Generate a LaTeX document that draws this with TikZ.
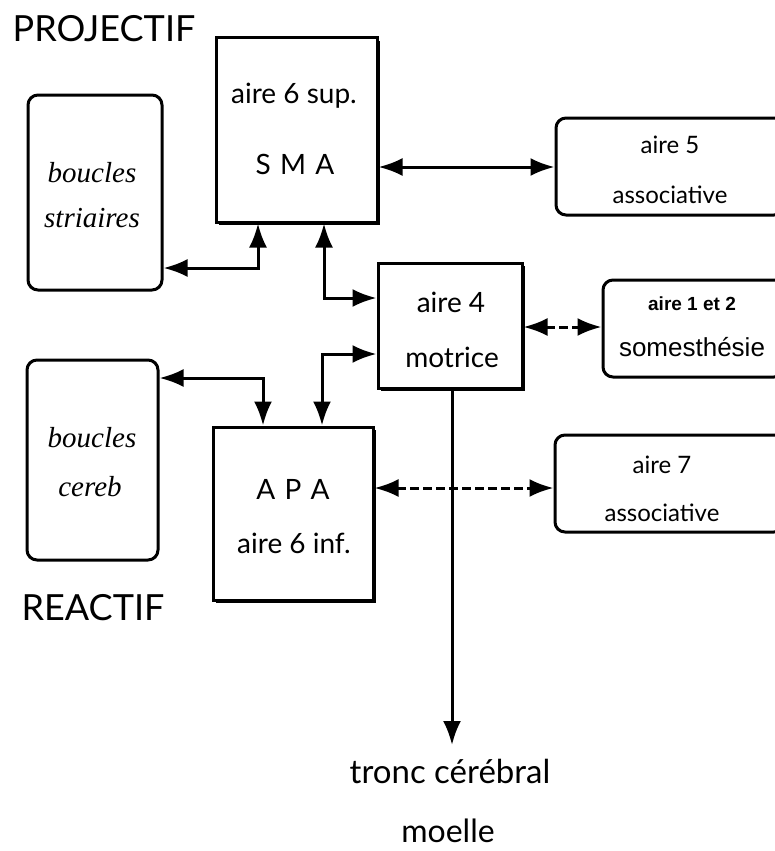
\documentclass[tikz,border=0pt]{standalone}
\usepackage{fontspec}
\setmainfont{Lato}
\newfontfamily\arialf{Liberation Sans}
\newfontfamily\scriptf{Liberation Serif}
\usetikzlibrary{arrows.meta,shadows}
\begin{document}
\begin{tikzpicture}[x=1pt,y=-1pt,
  box/.style={draw,line width=3pt,fill=white,inner sep=0pt},
  shbox/.style={box,drop shadow={shadow xshift=3pt,shadow yshift=-3pt,fill=black,opacity=1}},
  rbox/.style={box,rounded corners=10pt},
  dbl/.style={line width=3pt,{Latex[length=24pt,width=18pt]}-{Latex[length=24pt,width=18pt]}},
  dsh/.style={dbl,dash pattern=on 9pt off 4pt},
  lab/.style={inner sep=0pt,anchor=center},
  hd/.style={lab,font=\fontsize{36}{40}\selectfont},
  bt/.style={lab,font=\fontsize{28}{32}\selectfont},
  st/.style={lab,font=\fontsize{24}{28}\selectfont},
  it/.style={lab,font=\scriptf\itshape\fontsize{29}{32}\selectfont}]
\useasboundingbox (0,0) rectangle (775,851);
\clip (0,0) rectangle (775,851);

% boxes
\node[shbox,minimum width=161pt,minimum height=184pt] (sma) at (296.5,130) {};
\node[rbox,minimum width=134pt,minimum height=195pt] (str) at (95,192.5) {};
\node[rbox,minimum width=228pt,minimum height=97pt] (a5) at (670,166.5) {};
\node[shbox,minimum width=144pt,minimum height=125pt] (a4) at (450,325.5) {};
\node[rbox,minimum width=181pt,minimum height=97pt] (a12) at (693.5,328.5) {};
\node[rbox,minimum width=131pt,minimum height=200pt] (cer) at (92.5,460) {};
\node[shbox,minimum width=160pt,minimum height=173pt] (apa) at (293,513.5) {};
\node[rbox,minimum width=229pt,minimum height=97pt] (a7) at (669.5,483.5) {};
\coordinate (bot) at (452,745);

% texts
\node[hd] (proj) at (104,29) {PROJECTIF};
\node[hd] (reac) at (93,608) {REACTIF};
\node[bt] (t1) at (294,96) {aire 6 sup.};
\node[bt] (t2) at (295,164) {S\,\,M\,\,A};
\node[it] (t3) at (92,173) {boucles};
\node[it] (t4) at (92,218) {striaires};
\node[st] (t5) at (670,145) {aire 5};
\node[st] (t6) at (670,195) {associative};
\node[bt] (t7) at (451,302) {aire 4};
\node[bt] (t8) at (452,357) {motrice};
\node[lab,font=\arialf\bfseries\fontsize{19}{22}\selectfont] (t9) at (692,304) {aire 1 et 2};
\node[lab,font=\arialf\fontsize{26}{30}\selectfont] (t10) at (692,347) {somesthésie};
\node[it] (t11) at (92,438) {boucles};
\node[it] (t12) at (90,487) {cereb};
\node[bt] (t13) at (293,489) {A\,\,P\,\,A};
\node[bt] (t14) at (294,543) {aire 6 inf.};
\node[st] (t15) at (662,465) {aire 7};
\node[st] (t16) at (662,513) {associative};
\node[lab,font=\fontsize{33}{36}\selectfont] (t17) at (450,771) {tronc cérébral};
\node[lab,font=\fontsize{32}{36}\selectfont] (t18) at (448,831) {moelle};

% connectors
\draw[dbl] (sma.south -| 258,0) |- (str.east |- 0,268);
\draw[dbl] (sma.south -| 324,0) |- (a4.west |- 0,298);
\draw[dbl] (cer.east |- 0,378) -| (apa.north -| 263,0);
\draw[dbl] (apa.north -| 322,0) |- (a4.west |- 0,354);
\draw[dbl] (sma.east |- 0,167) -- (a5.west |- 0,167);
\draw[dsh] (a4.east |- 0,327) -- (a12.west |- 0,327);
\draw[dsh] (apa.east |- 0,488) -- (a7.west |- 0,488);
\draw[line width=3pt,-{Latex[length=24pt,width=18pt]}] (a4.south -| bot) -- (bot);
\end{tikzpicture}
\end{document}
